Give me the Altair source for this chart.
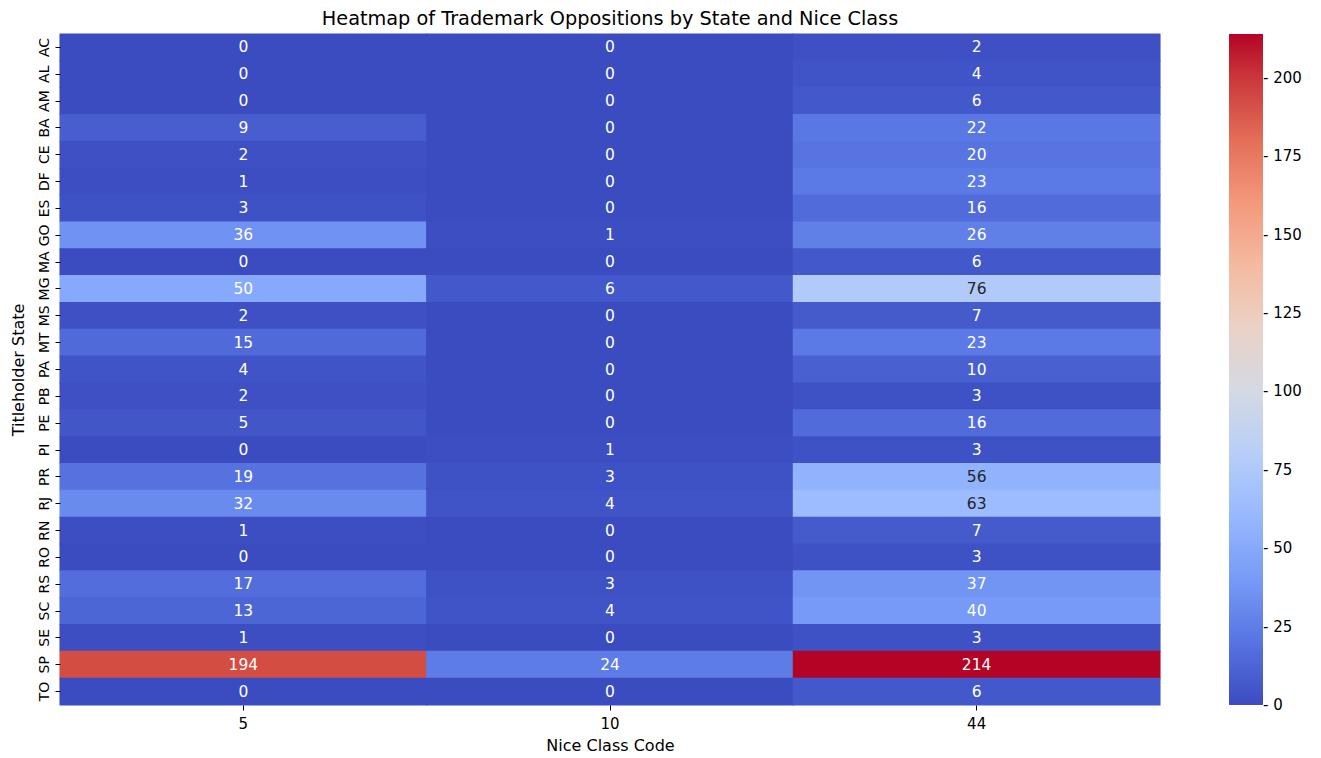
import altair as alt
import pandas as pd

states = ["AC", "AL", "AM", "BA", "CE", "DF", "ES", "GO", "MA", "MG", "MS", "MT", "PA",
          "PB", "PE", "PI", "PR", "RJ", "RN", "RO", "RS", "SC", "SE", "SP", "TO"]
classes = ["5", "10", "44"]
class_5 = [0, 0, 0, 9, 2, 1, 3, 36, 0, 50, 2, 15, 4, 2, 5, 0, 19, 32, 1, 0, 17, 13, 1, 194, 0]
class_10 = [0, 0, 0, 0, 0, 0, 0, 1, 0, 6, 0, 0, 0, 0, 0, 1, 3, 4, 0, 0, 3, 4, 0, 24, 0]
class_44 = [2, 4, 6, 22, 20, 23, 16, 26, 6, 76, 7, 23, 10, 3, 16, 3, 56, 63, 7, 3, 37, 40, 3, 214, 6]
legend_ticks = [0.05, 25, 50, 75, 100, 125, 150, 175, 200]

# matplotlib "coolwarm" colormap sampled at 0.0, 0.1, ..., 1.0
coolwarm = ["#3b4cc0", "#5977e3", "#7b9ff9", "#9ebeff", "#c0d4f5", "#dddcdc",
            "#f2cbb7", "#f7ac8e", "#ee8468", "#d65244", "#b40426"]
vmin, vmax = 0, 214
stops = [vmin + (vmax - vmin) * i / 10 for i in range(11)]

rows = []
for col, vals in zip(classes, [class_5, class_10, class_44]):
    for s, v in zip(states, vals):
        rows.append({"state": s, "nice": col, "count": v})
df = pd.DataFrame(rows)

FONT = "DejaVu Sans"
FS_TICK = 15
FS = 16

base = alt.Chart(df).encode(
    x=alt.X("nice:N", sort=classes, title="Nice Class Code",
            scale=alt.Scale(paddingInner=0, paddingOuter=0),
            axis=alt.Axis(labelAngle=0, domain=False, ticks=True, tickSize=5,
                          tickColor="#000000", labelFontSize=FS_TICK, labelPadding=6,
                          titleFontSize=FS, titlePadding=6, labelColor="#000000",
                          titleColor="#000000", titleFontWeight="normal")),
    y=alt.Y("state:N", sort=states, title="Titleholder State",
            scale=alt.Scale(paddingInner=0, paddingOuter=0),
            axis=alt.Axis(labelAngle=270, labelAlign="center", labelBaseline="bottom",
                          domain=False, ticks=True, tickSize=5, tickColor="#000000",
                          labelFontSize=14, labelPadding=4, titleFontSize=FS,
                          titlePadding=11, labelColor="#000000", titleColor="#000000",
                          titleFontWeight="normal")),
)

rects = base.mark_rect(
    width=alt.RelativeBandSize(band=1.003),
    height=alt.RelativeBandSize(band=1.035),
).encode(
    color=alt.Color("count:Q",
                    scale=alt.Scale(domain=stops, range=coolwarm, interpolate="rgb"),
                    legend=alt.Legend(type="gradient", title=None, orient="none",
                                      legendX=1169, legendY=0,
                                      direction="vertical", gradientLength=671,
                                      gradientThickness=34, values=legend_ticks,
                                      labelFontSize=FS_TICK, labelOffset=0,
                                      labelBaseline="middle",
                                      labelExpr="'- ' + round(datum.value)",
                                      labelOverlap=False, padding=0,
                                      gradientStrokeWidth=0, labelColor="#000000")),
)

labels = base.mark_text(fontSize=15.5, font=FONT).encode(
    text=alt.Text("count:Q"),
    color=alt.condition(
        (alt.datum.count >= 53) & (alt.datum.count <= 165),
        alt.value("#262626"),
        alt.value("#ffffff"),
    ),
)

chart = (rects + labels).properties(
    width=1100,
    height=671,
    title=alt.TitleParams("Heatmap of Trademark Oppositions by State and Nice Class",
                          fontSize=19.3, fontWeight="normal", font=FONT, color="#000000",
                          anchor="middle", offset=4),
    autosize=alt.AutoSizeParams(type="none"),
    padding={"left": 52, "top": 26, "right": 150, "bottom": 50},
).configure(font=FONT).configure_view(stroke=None)

chart.save("out.html", embed_options={"renderer": "svg", "actions": False})
